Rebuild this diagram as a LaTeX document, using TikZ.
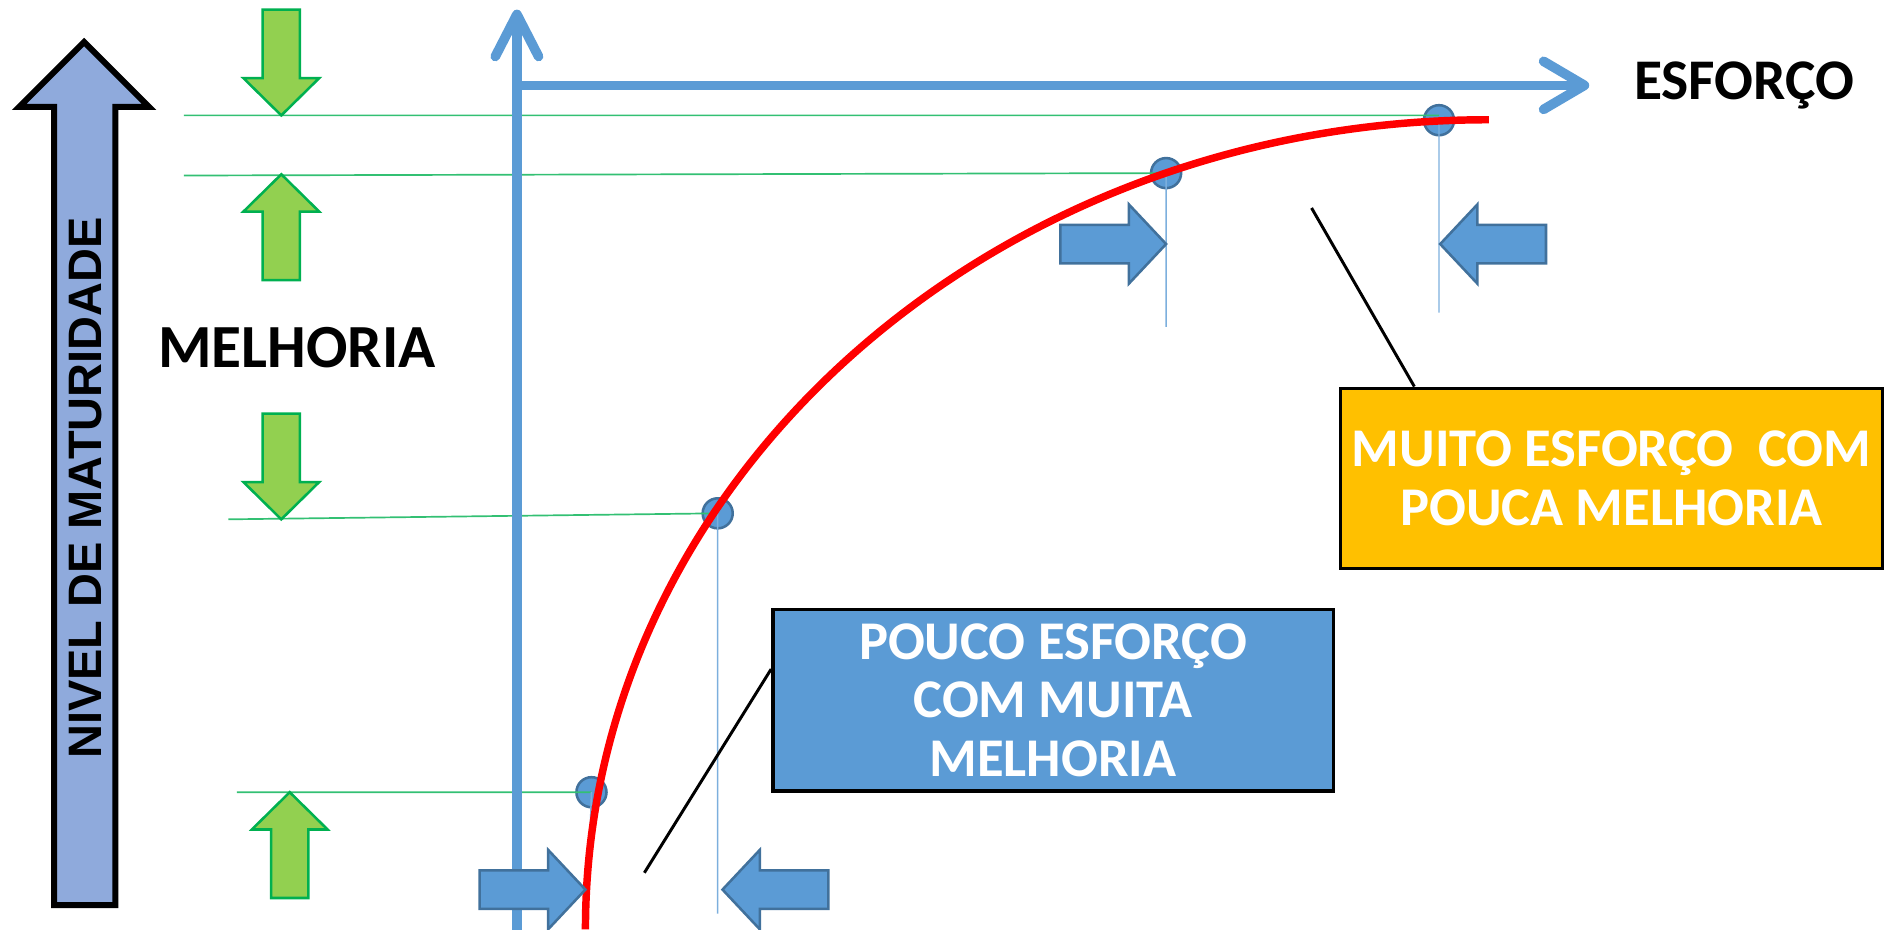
\documentclass[tikz,border=0pt]{standalone}
\usepackage{fontspec}
\setmainfont{Carlito}
\newfontfamily\axisfont{Liberation Sans}
\usetikzlibrary{shapes.geometric}
\definecolor{axisblue}{HTML}{5B9BD5}
\definecolor{edgeblue}{HTML}{41719C}
\definecolor{leafgreen}{HTML}{92D050}
\definecolor{darkgreen}{HTML}{00B050}
\definecolor{paleblue}{HTML}{8FAADC}
\definecolor{amber}{HTML}{FFC000}
\begin{document}
\begin{tikzpicture}[x=0.01cm, y=-0.01cm,
    bluearrow/.style={fill=axisblue, draw=edgeblue, line width=0.6pt},
    greenarrow/.style={fill=leafgreen, draw=darkgreen, line width=0.6pt},
    guide/.style={darkgreen!80, line width=0.4pt},
    drop/.style={axisblue!80, line width=0.35pt},
    dot/.style={circle, draw=edgeblue, fill=axisblue, line width=0.6pt, inner sep=0pt, minimum size=0.25cm},
    axis/.style={axisblue, line width=0.08cm, line cap=round, line join=round},
    curve/.style={red, line width=0.062cm},
    bigtext/.style={font=\bfseries\fontsize{14.5}{14.5}\selectfont},
    note/.style={draw=black, line width=0.8pt, text=white, align=center, inner sep=0pt, font=\bfseries\fontsize{12.9}{13.8}\selectfont}]
  \useasboundingbox (0,0) rectangle (1568,773);
  \draw[fill=paleblue, line width=0.05cm] (70,35) -- (124,89) -- (96,89) -- (96,753)
    -- (45,753) -- (45,89) -- (16,89) -- cycle;
  \node[rotate=90, font=\axisfont\bfseries\fontsize{11.1}{11.1}\selectfont] (nivel) at (71,406) {NIVEL DE MATURIDADE};
  \node[bigtext] (melhoria) at (247,289) {MELHORIA};
  \node[bigtext, font=\bfseries\fontsize{13.6}{13.6}\selectfont, anchor=base] (esforco) at (1451,83) {ESFORÇO};
  \foreach \n/\x/\y in {p1/492/659, p2/597/427, p3/970/144, p4/1197/100}
    \node[dot] (\n) at (\x,\y) {};
  \foreach \n/\x/\y in {g1/197/659, g2/190/432, g3/153/146, g4/153/96}
    \coordinate (\n) at (\x,\y);
  \draw[guide] (g1) -- (p1.center) (g2) -- (p2.center) (g3) -- (p3.center) (g4) -- (p4.center |- g4);
  \draw[drop] (p1.center) -- ++(-3,90) (p2.center) -- ++(0,333) (p3.center) -- ++(0,128) (p4.center) -- ++(0,160);
  \coordinate (origin) at (430,71);
  \coordinate (ytip) at (430,12);
  \coordinate (xtip) at (1318,71);
  \draw[axis] (430,790) -- (430,18) (origin) -- ([xshift=-0.06cm]xtip);
  \draw[axis] ([shift={(-18,35)}]ytip) -- (ytip) -- ([shift={(18,35)}]ytip);
  \draw[axis] ([shift={(-34,-20)}]xtip) -- (xtip) -- ([shift={(-34,20)}]xtip);
  \draw[curve] (487,773) arc[start angle=180, end angle=90, x radius=7.51cm, y radius=6.73cm];
  \foreach \x/\y/\a in {970/203/0, 1198/203/180, 487/740/0, 601/740/180}
    \draw[bluearrow, shift={(\x,\y)}, rotate=\a] (0,0) -- (-31,-33) -- (-31,-16) -- (-88,-16)
      -- (-88,16) -- (-31,16) -- (-31,33) -- cycle;
  \foreach \x/\y/\a in {234/96/-90, 234/145/90, 234/432/-90, 241/659/90}
    \draw[greenarrow, shift={(\x,\y)}, rotate=\a] (0,0) -- (-31,-31.5) -- (-31,-15.5) -- (-88,-15.5)
      -- (-88,15.5) -- (-31,15.5) -- (-31,31.5) -- cycle;
  \node[note, fill=axisblue, minimum width=4.66cm, minimum height=1.51cm] (pouco) at (876,582.5)
    {POUCO ESFORÇO\\COM MUITA\\MELHORIA};
  \node[note, fill=amber, minimum width=4.51cm, minimum height=1.50cm] (muito) at (1340.5,398)
    {MUITO ESFORÇO\ \ COM\\POUCA MELHORIA};
  \coordinate (poucotail) at (536,726);
  \coordinate (muitotail) at (1091,173);
  \draw[line width=0.7pt] (poucotail) -- ([yshift=-0.51cm]pouco.north west);
  \draw[line width=0.7pt] (muitotail) -- ([xshift=0.63cm]muito.north west);
\end{tikzpicture}
\end{document}
